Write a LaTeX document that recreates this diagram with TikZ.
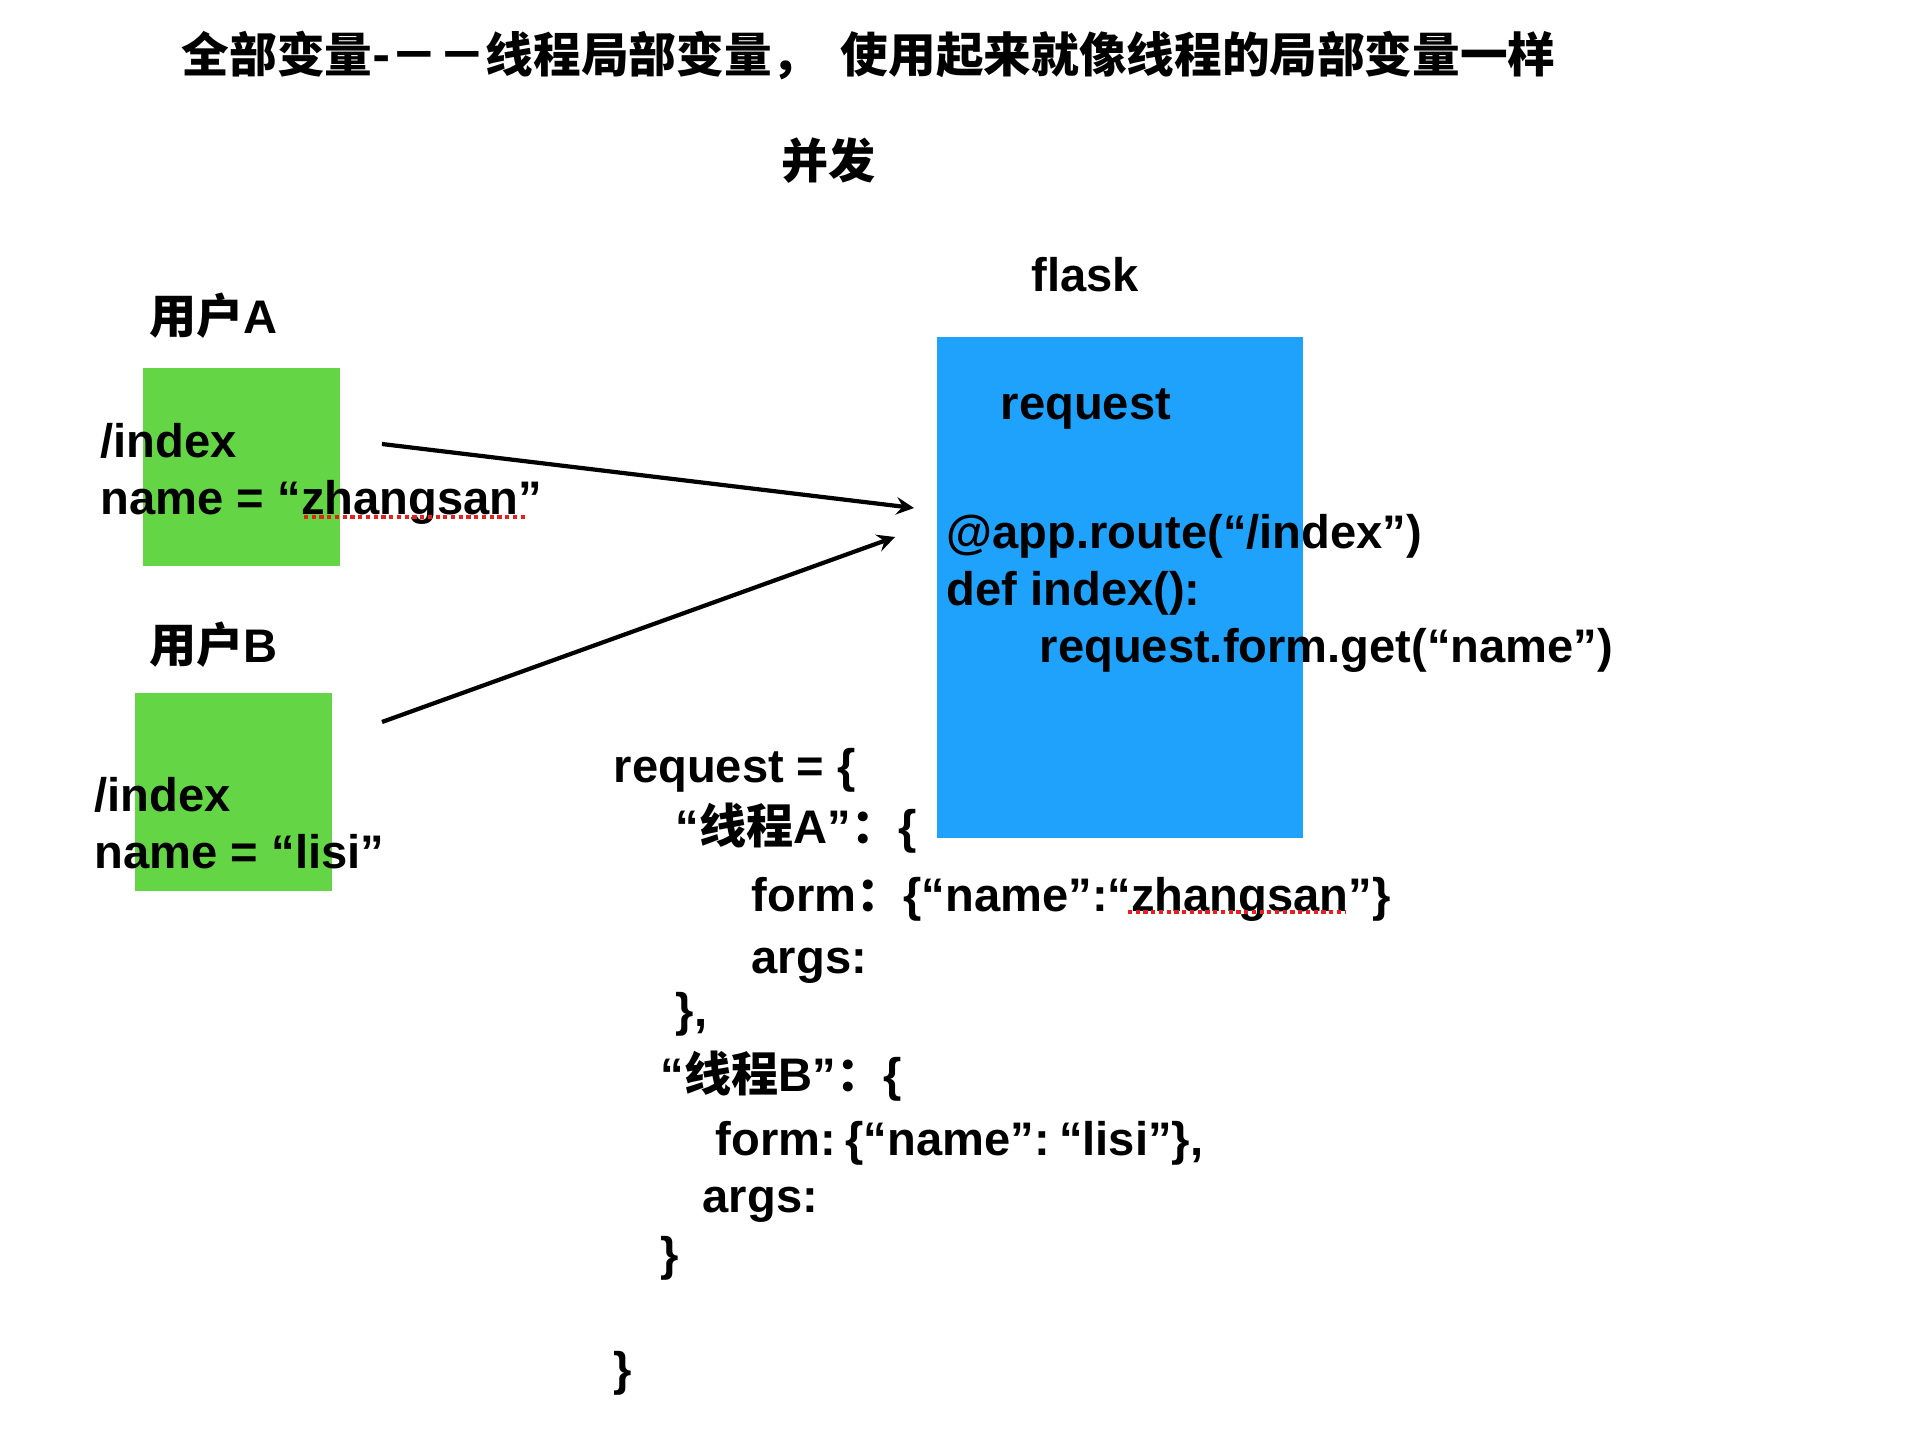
\documentclass[tikz,border=0pt]{standalone}
\usepackage{fontspec}
\setmainfont{Liberation Sans}
\newfontfamily\cjk{Noto Sans CJK SC}
\usepackage{tikz}
\usetikzlibrary{arrows}
\usepackage{xcolor}
\definecolor{threadgreen}{RGB}{100, 214, 70}
\definecolor{flaskblue}{RGB}{30, 162, 251}
\definecolor{spellred}{RGB}{235, 30, 30}
\newcommand{\zh}[1]{{\cjk #1}}
\tikzstyle{userbox} = [rectangle, fill=threadgreen, anchor=north west, inner sep=0pt, minimum width=1.97cm, minimum height=1.98cm]
\tikzstyle{appbox} = [rectangle, fill=flaskblue, anchor=north west, inner sep=0pt, minimum width=3.66cm, minimum height=5.01cm]
\tikzstyle{txt} = [anchor=base west, inner sep=0pt, font=\fontsize{13.4pt}{16pt}\selectfont\bfseries]
\tikzstyle{arrow} = [line width=1.2pt,->,>=stealth,black]
\tikzstyle{spell} = [spellred, densely dotted, line width=1.2pt]

\begin{document}
\begin{tikzpicture}[x=0.01cm, y=-0.01cm]
\useasboundingbox (0,0) rectangle (1914,1430);

% Coloured blocks
\node[userbox] (boxA) at (142,367) {};
\node[userbox] (boxB) at (134,692) {};
\node[appbox] (flaskbox) at (936,336) {};

% Headings
\node[txt, font=\fontsize{13.55pt}{16pt}\selectfont\bfseries] (title) at (181,73) {\zh{全部变量-－－线程局部变量，\hspace{0.45em}使用起来就像线程的局部变量一样}};
\node[txt] (concur) at (781,178) {\zh{并发}};
\node[txt] (flask) at (1031,291) {flask};
\node[txt] (userA) at (149,333) {\zh{用户}A};
\node[txt] (userB) at (149,662) {\zh{用户}B};

% User requests
\node[txt] (pathA) at (100,457) {/index};
\node[txt] (nameA) at (100,514) {name = “zhangsan”};
\node[txt] (pathB) at (94,811) {/index};
\node[txt] (nameB) at (94,868) {name = “lisi”};

% View code
\node[txt] (req) at (1000,419) {request};
\node[txt] (route) at (946,548) {@app.route(“/index”)};
\node[txt] (view) at (946,605) {def index():};
\node[txt] (getname) at (1039,662) {request.form.get(“name”)};

% Request per thread
\node[txt] (dict) at (613,782) {request = \{};
\node[txt] (thA) at (675,843) {“\zh{线程}A”\zh{：}\{};
\node[txt] (formA) at (751,911) {form\zh{：}\{“name”:“zhangsan”\}};
\node[txt] (argsA) at (751,973) {args:};
\node[txt] (endA) at (675,1026) {\},};
\node[txt] (thB) at (660,1091) {“\zh{线程}B”\zh{：}\{};
\node[txt] (formB) at (715,1155) {form:\hspace{0.2em}\{“name”:\hspace{0.2em}“lisi”\},};
\node[txt] (argsB) at (702,1212) {args:};
\node[txt] (endB) at (660,1270) {\}};
\node[txt] (enddict) at (613,1385) {\}};

% Spelling marks
\draw[spell] (304,517) -- (525,517);
\draw[spell] (1128,912) -- (1346,912);

% Arrows
\coordinate (fromA) at (382,444);
\coordinate (toA) at (914,508);
\coordinate (fromB) at (382,722);
\coordinate (toB) at (895,537);
\draw[arrow] (fromA) -- (toA);
\draw[arrow] (fromB) -- (toB);
\end{tikzpicture}
\end{document}
